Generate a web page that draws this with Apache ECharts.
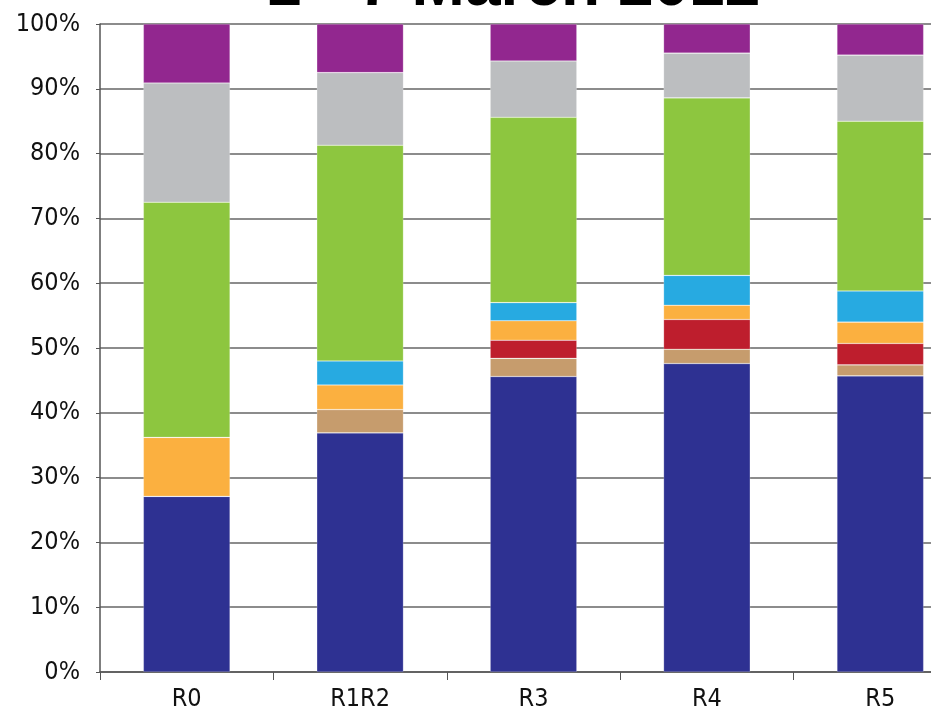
<!DOCTYPE html>
<html>
<head>
<meta charset="utf-8">
<style>
  html, body { margin: 0; padding: 0; background: #ffffff; overflow: hidden; }
  /* the plot runs past the right edge of the window, so the last band is clipped */
  #chart { width: 967px; height: 712px; }
</style>
<script src="https://cdn.jsdelivr.net/npm/echarts@6/dist/echarts.min.js"></script>
</head>
<body>
<div id="chart"></div>
<script>
// Share of each component per region, in percent (stacks to 100)
const categories = ['R0', 'R1R2', 'R3', 'R4', 'R5'];
const seriesNames = ['A', 'B', 'C', 'D', 'E', 'F', 'G', 'H'];
const darkBlue  = [27.1, 36.9, 45.6, 47.6, 45.7];
const tan       = [0.0, 3.6, 2.8, 2.2, 1.7];
const red       = [0.0, 0.0, 2.8, 4.6, 3.3];
const orange    = [9.1, 3.8, 3.0, 2.2, 3.3];
const lightBlue = [0.0, 3.7, 2.8, 4.6, 4.8];
const green     = [36.3, 33.3, 28.6, 27.4, 26.2];
const gray      = [18.4, 11.2, 8.7, 6.9, 10.2];
const purple    = [9.1, 7.5, 5.7, 4.5, 4.8];
const yTickValues = [0, 10, 20, 30, 40, 50, 60, 70, 80, 90, 100];
const titleText = '1 - 7 March 2012';

const seriesData = [darkBlue, tan, red, orange, lightBlue, green, gray, purple];
const colors = ['#2E3192', '#C69C6D', '#BE1E2D', '#FBB040', '#27AAE1', '#8DC63F', '#BCBEC0', '#92278F'];

const labelFont = '"Liberation Sans Narrow", "DejaVu Sans Condensed", "Liberation Sans", sans-serif';

const chart = echarts.init(document.getElementById('chart'), null, { renderer: 'canvas' });

chart.setOption({
  animation: false,
  backgroundColor: '#ffffff',
  graphic: [{
    type: 'text',
    x: 513,
    y: 19,
    style: {
      text: titleText,
      font: 'bold 64px "Liberation Sans", Arial, sans-serif',
      fill: '#000000',
      textAlign: 'center',
      align: 'center',
      textVerticalAlign: 'bottom',
      verticalAlign: 'bottom'
    },
    z: 100
  }],
  grid: { left: 100, top: 24, bottom: 40, right: 0, containLabel: false },
  xAxis: {
    type: 'category',
    data: categories,
    axisLine: { show: true, lineStyle: { color: '#555555', width: 1.5 } },
    axisTick: { show: true, alignWithLabel: false, length: 8, lineStyle: { color: '#555555', width: 1 } },
    axisLabel: { color: '#111111', fontSize: 25, fontFamily: labelFont, margin: 15 }
  },
  yAxis: {
    type: 'value',
    min: 0,
    max: 100,
    interval: 10,
    axisLine: { show: true, lineStyle: { color: '#555555', width: 1.5 } },
    axisTick: { show: true, length: 4, lineStyle: { color: '#555555' } },
    splitLine: { show: true, lineStyle: { color: '#666666', width: 1.5 } },
    axisLabel: {
      color: '#111111',
      fontSize: 25,
      fontFamily: labelFont,
      margin: 20,
      customValues: yTickValues,
      formatter: v => v + '%'
    }
  },
  series: seriesData.map((d, i) => ({
    name: seriesNames[i],
    type: 'bar',
    stack: 'total',
    barWidth: '50%',
    data: d,
    itemStyle: { color: colors[i], borderColor: 'rgba(255,255,255,0.35)', borderWidth: 0.6 }
  }))
});
</script>
</body>
</html>
